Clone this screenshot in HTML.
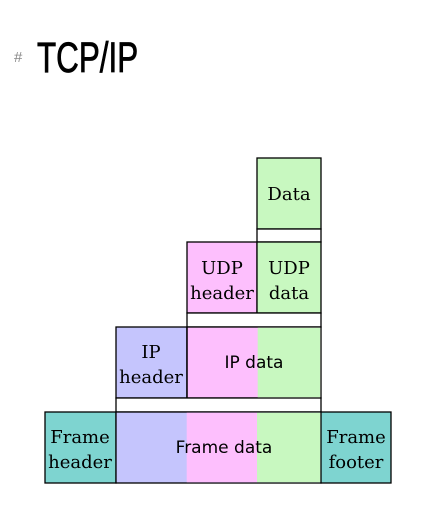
<!DOCTYPE html>
<html><head><style>
body{margin:0;width:438px;height:507px;background:#fff;overflow:hidden;position:relative;font-family:"Liberation Sans",sans-serif}
.h{position:absolute;left:14px;top:49px;font-size:15px;color:#888}
.t{position:absolute;left:37px;top:37px;font-size:43px;line-height:43px;color:#000;transform:scaleX(0.73);transform-origin:left top;white-space:nowrap;-webkit-text-stroke:0.8px #000}
</style></head><body>
<div class="h">#</div>
<div class="t">TCP/IP</div>
<svg width="438" height="507" style="position:absolute;left:0;top:0" font-family="DejaVu Serif, Liberation Serif, serif" font-size="18">
<g stroke="#000" stroke-width="1.3">
<rect x="257" y="158" width="64" height="71" fill="#c8f8c0"/>
<rect x="257" y="229" width="64" height="13" fill="#fff"/>
<rect x="187" y="242" width="70" height="71" fill="#fdbffd"/>
<rect x="257" y="242" width="64" height="71" fill="#c8f8c0"/>
<rect x="187" y="313" width="134" height="14" fill="#fff"/>
<rect x="116" y="327" width="71" height="71" fill="#c5c5fd"/>
<rect x="187" y="327" width="134" height="71" fill="#fdbffd"/>
<rect x="116" y="398" width="205" height="14" fill="#fff"/>
<rect x="45" y="412" width="71" height="71" fill="#7ed4d0"/>
<rect x="116" y="412" width="205" height="71" fill="#c5c5fd"/>
<rect x="321" y="412" width="70" height="71" fill="#7ed4d0"/>
</g>
<rect x="257.7" y="327.7" width="62.6" height="69.6" fill="#c8f8c0"/>
<rect x="186.7" y="412.7" width="70.3" height="69.6" fill="#fdbffd"/>
<rect x="257" y="412.7" width="63.3" height="69.6" fill="#c8f8c0"/>
<line x1="187" y1="327" x2="187" y2="398" stroke="#000" stroke-width="1.3"/>
<g text-anchor="middle" fill="#000">
<text x="289" y="200">Data</text>
<text x="222" y="274">UDP</text><text x="222" y="299">header</text>
<text x="289" y="274">UDP</text><text x="289" y="299">data</text>
<text x="151" y="358">IP</text><text x="151" y="383">header</text>
<text x="80" y="443">Frame</text><text x="80" y="468">header</text>
<text x="356" y="443">Frame</text><text x="356" y="468">footer</text>
<text x="254" y="368" font-family="DejaVu Sans, sans-serif" font-size="17">IP data</text>
<text x="224" y="453" font-family="DejaVu Sans, sans-serif" font-size="17">Frame data</text>
</g>
</svg>
</body></html>
